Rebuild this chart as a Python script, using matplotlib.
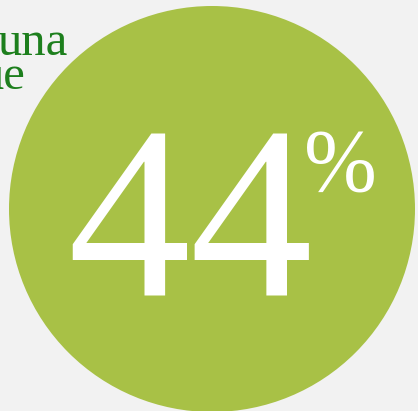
import matplotlib.pyplot as plt
from matplotlib.patches import Circle

# badge value and caption fragments
percent_value = 44
caption_lines = ["una", "ue"]

W, H = 418, 411
BG = "#f2f2f2"
GREEN = "#a8c146"
CAPTION = "#1d7f1d"
SERIF = "Liberation Serif"

fig = plt.figure(figsize=(W / 100, H / 100), dpi=100, facecolor=BG)
ax = fig.add_axes([0, 0, 1, 1])
ax.set_xlim(0, W)
ax.set_ylim(H, 0)
ax.set_aspect("equal")
ax.axis("off")

# big round badge
ax.add_patch(Circle((212, 209), 203, color=GREEN, lw=0))

# percentage number
ax.text(67, 295, str(percent_value), color="white", fontsize=177,
        family=SERIF, ha="left", va="baseline")
ax.text(304, 190, "%", color="white", fontsize=63, family=SERIF,
        ha="left", va="baseline")

# caption at top left (cut off by the frame)
ax.text(68, 55, caption_lines[0], color=CAPTION, fontsize=35, family=SERIF,
        ha="right", va="baseline")
ax.text(25, 89, caption_lines[1], color=CAPTION, fontsize=35, family=SERIF,
        ha="right", va="baseline")

fig.savefig("out.png", dpi=100, facecolor=BG)
